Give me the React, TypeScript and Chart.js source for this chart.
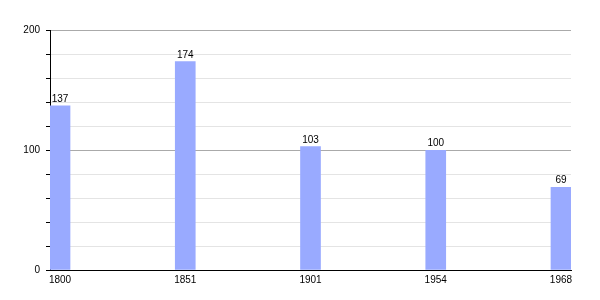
import React, { useEffect, useRef } from "react";
import { Chart, registerables } from "chart.js";

Chart.register(...registerables);

const years = ["1800", "1851", "1901", "1954", "1968"];
const population = [137, 174, 103, 100, 69];
const yTickLabels = ["0", "100", "200"];

const FONT = "'Liberation Sans', Arial, sans-serif";

const valueLabels = {
  id: "valueLabels",
  afterDatasetsDraw(chart: any) {
    const ctx = chart.ctx;
    const meta = chart.getDatasetMeta(0);
    ctx.save();
    ctx.font = "10px " + FONT;
    ctx.fillStyle = "#000";
    ctx.textAlign = "center";
    ctx.textBaseline = "alphabetic";
    meta.data.forEach((bar: any, i: number) => {
      ctx.fillText(String(population[i]), bar.x, bar.y - 4);
    });
    ctx.restore();
  },
};

export default function App() {
  const ref = useRef<HTMLCanvasElement>(null);
  useEffect(() => {
    document.body.style.margin = "0";
    const chart = new Chart(ref.current!, {
      type: "bar",
      data: {
        datasets: [
          {
            data: population.map((v, i) => ({ x: i, y: v })),
            backgroundColor: "#99aaff",
            barThickness: 20,
          },
        ],
      },
      options: {
        animation: false,
        responsive: false,
        maintainAspectRatio: false,
        layout: { padding: { top: 30.5, right: 29, left: 0, bottom: 0 } },
        plugins: { legend: { display: false }, tooltip: { enabled: false } },
        scales: {
          x: {
            type: "linear",
            min: -0.08,
            max: 4.08,
            offset: false,
            grid: { display: false, drawTicks: false, offset: false },
            border: { display: true, color: "#000", width: 1 },
            ticks: {
              stepSize: 1,
              includeBounds: false,
              autoSkip: false,
              maxRotation: 0,
              padding: 4,
              color: "#000",
              font: { family: FONT, size: 10 },
              callback: (v: any) =>
                Number.isInteger(v) && years[v] !== undefined ? years[v] : "",
            },
            afterFit: (s: any) => {
              s.height = 30;
            },
          },
          y: {
            min: 0,
            max: 200,
            grid: {
              color: (c: any) =>
                c.tick && c.tick.value % 100 === 0 ? "#aaaaaa" : "#e4e4e4",
              tickColor: "#000",
              tickLength: 4,
            },
            border: { display: true, color: "#000", width: 1 },
            ticks: {
              stepSize: 20,
              padding: 6,
              color: "#000",
              font: { family: FONT, size: 10 },
              callback: (v: any) =>
                v % 100 === 0 ? yTickLabels[v / 100] : "",
            },
            afterFit: (s: any) => {
              s.width = 50;
            },
          },
        },
      },
      plugins: [valueLabels],
    });
    return () => chart.destroy();
  }, []);
  return (
    <div style={{ width: 600, height: 300 }}>
      <canvas ref={ref} width={600} height={300} style={{ display: "block" }} />
    </div>
  );
}
